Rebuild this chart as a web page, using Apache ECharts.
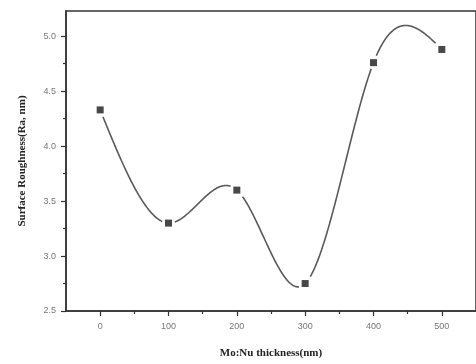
<!DOCTYPE html>
<html>
<head>
<meta charset="utf-8">
<script src="https://cdn.jsdelivr.net/npm/echarts@6/dist/echarts.min.js"></script>
<style>
  html, body { margin: 0; padding: 0; background: #fff; }
  #chart { width: 476px; height: 364px; }
</style>
</head>
<body>
<div id="chart"></div>
<script>
// thickness (nm) and Ra (nm)
var thickness = [0, 100, 200, 300, 400, 500];
var roughness = [4.33, 3.30, 3.60, 2.75, 4.76, 4.88];

var xLabels = [0, 100, 200, 300, 400, 500];
var xMinor = [50, 150, 250, 350, 450];
var yLabels = [2.5, 3.0, 3.5, 4.0, 4.5, 5.0];
var yMinor = [2.75, 3.25, 3.75, 4.25, 4.75];

// natural cubic spline second derivatives, used only to draw the curve
function splineM(xs, ys) {
    var n = xs.length, M = new Array(n).fill(0);
    var a = [], b = [], c = [], d = [];
    for (var i = 1; i < n - 1; i++) {
        var h0 = xs[i] - xs[i - 1], h1 = xs[i + 1] - xs[i];
        a.push(h0);
        b.push(2 * (h0 + h1));
        c.push(h1);
        d.push(6 * ((ys[i + 1] - ys[i]) / h1 - (ys[i] - ys[i - 1]) / h0));
    }
    var m = b.length;
    for (var k = 1; k < m; k++) {
        var w = a[k] / b[k - 1];
        b[k] -= w * c[k - 1];
        d[k] -= w * d[k - 1];
    }
    var sol = new Array(m);
    sol[m - 1] = d[m - 1] / b[m - 1];
    for (var k = m - 2; k >= 0; k--) sol[k] = (d[k] - c[k] * sol[k + 1]) / b[k];
    for (var k = 0; k < m; k++) M[k + 1] = sol[k];
    return M;
}

function splineAt(xs, ys, M, x) {
    var i = 0;
    while (i < xs.length - 2 && x > xs[i + 1]) i++;
    var h = xs[i + 1] - xs[i];
    var A = (xs[i + 1] - x) / h, B = (x - xs[i]) / h;
    return A * ys[i] + B * ys[i + 1] + ((A * A * A - A) * M[i] + (B * B * B - B) * M[i + 1]) * h * h / 6;
}

var M = splineM(thickness, roughness);

var chart = echarts.init(document.getElementById('chart'));

var titleFont = { color: '#222', fontSize: 11, fontWeight: 'bold', fontFamily: 'Liberation Serif, Times New Roman, serif' };

option = {
    backgroundColor: '#fff',
    animation: false,
    grid: {
        left: 66, top: 11, right: -6, bottom: 53,
        show: true, borderColor: '#333', borderWidth: 1.5
    },
    xAxis: [{
        type: 'value',
        min: -50, max: 550,
        name: 'Mo:Nu thickness(nm)',
        nameLocation: 'middle',
        nameGap: 37,
        nameTextStyle: titleFont,
        axisLine: { show: true, onZero: false, lineStyle: { color: '#333', width: 1.5 } },
        axisTick: { show: true, length: 5, customValues: xLabels, lineStyle: { color: '#333', width: 1.2 } },
        axisLabel: { customValues: xLabels, margin: 11, color: '#777', fontSize: 9,
            fontFamily: 'Liberation Sans, Arial, sans-serif' },
        splitLine: { show: false }
    }, {
        type: 'value',
        min: -50, max: 550,
        position: 'bottom',
        axisLine: { show: false, onZero: false },
        axisTick: { show: true, length: 3, customValues: xMinor, lineStyle: { color: '#333', width: 1.2 } },
        axisLabel: { show: false },
        splitLine: { show: false }
    }],
    yAxis: [{
        type: 'value',
        min: 2.5, max: 5.23,
        name: 'Surface Roughness(Ra, nm)',
        nameLocation: 'middle',
        nameGap: 38,
        nameTextStyle: titleFont,
        axisLine: { show: true, onZero: false, lineStyle: { color: '#333', width: 1.5 } },
        axisTick: { show: true, length: 5, customValues: yLabels, lineStyle: { color: '#333', width: 1.2 } },
        axisLabel: {
            customValues: yLabels, margin: 10, color: '#777', fontSize: 9,
            fontFamily: 'Liberation Sans, Arial, sans-serif',
            formatter: function(v) { return v.toFixed(1); }
        },
        splitLine: { show: false }
    }, {
        type: 'value',
        min: 2.5, max: 5.23,
        position: 'left',
        axisLine: { show: false, onZero: false },
        axisTick: { show: true, length: 3, customValues: yMinor, lineStyle: { color: '#333', width: 1.2 } },
        axisLabel: { show: false },
        splitLine: { show: false }
    }],
    series: [{
        type: 'custom',
        xAxisIndex: 0,
        yAxisIndex: 0,
        data: [[0, 0]],
        silent: true,
        renderItem: function(params, api) {
            var marks = thickness.map(function(x, i) { return api.coord([x, roughness[i]]); });
            var pieces = [], cur = [];
            var x0 = thickness[0], x1 = thickness[thickness.length - 1];
            for (var s = 0; s <= 600; s++) {
                var x = x0 + (x1 - x0) * s / 600;
                var p = api.coord([x, splineAt(thickness, roughness, M, x)]);
                var near = marks.some(function(q) {
                    return Math.abs(q[0] - p[0]) < 6 && Math.abs(q[1] - p[1]) < 6;
                });
                if (near) {
                    if (cur.length > 1) pieces.push(cur);
                    cur = [];
                } else {
                    cur.push(p);
                }
            }
            if (cur.length > 1) pieces.push(cur);
            return {
                type: 'group',
                children: pieces.map(function(pts) {
                    return {
                        type: 'polyline',
                        shape: { points: pts, smooth: 0 },
                        style: { stroke: '#5a5a5a', lineWidth: 1.6, fill: null }
                    };
                })
            };
        }
    }, {
        type: 'scatter',
        xAxisIndex: 0,
        yAxisIndex: 0,
        symbol: 'rect',
        symbolSize: 7,
        itemStyle: { color: '#1a1a1a' },
        data: thickness.map(function(x, i) { return [x, roughness[i]]; })
    }]
};

chart.setOption(option);
</script>
</body>
</html>
